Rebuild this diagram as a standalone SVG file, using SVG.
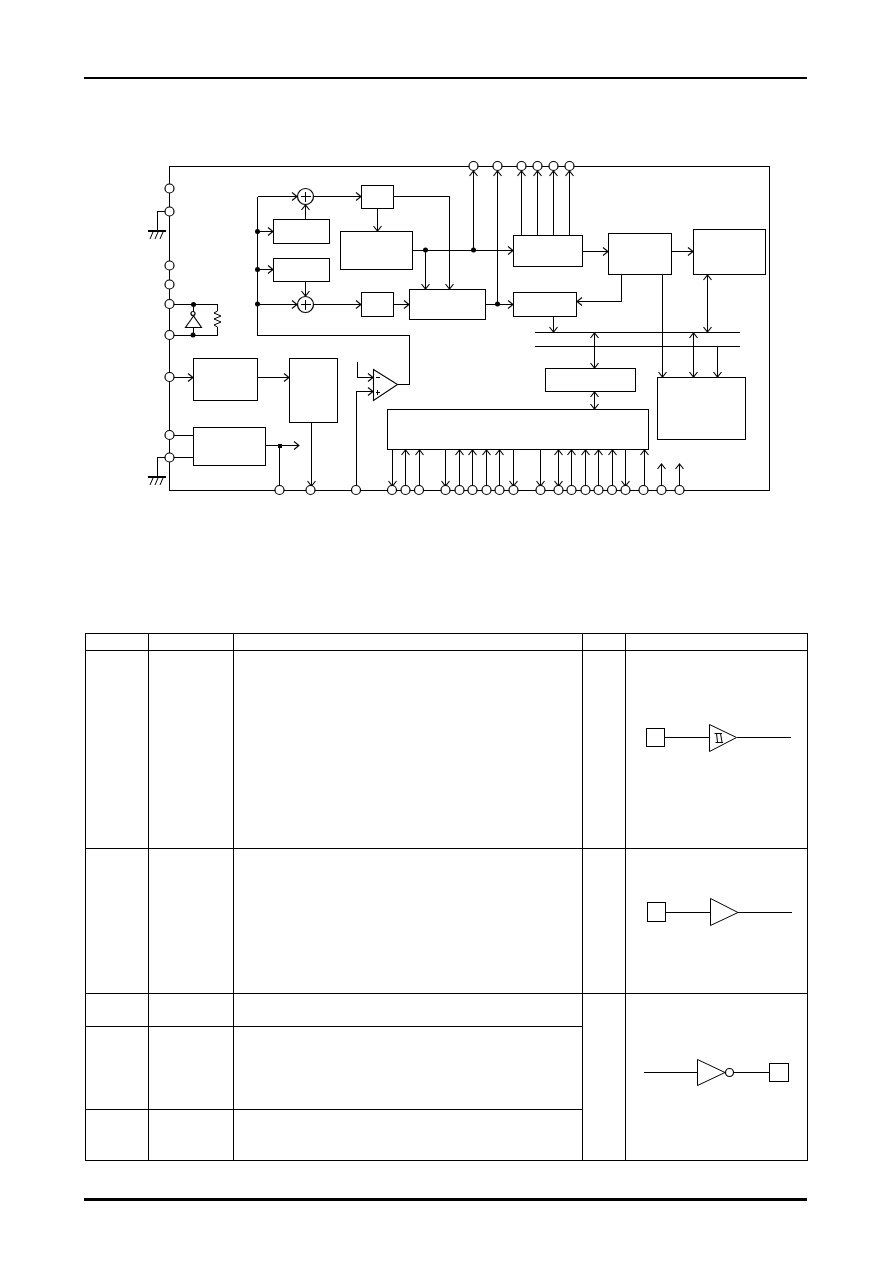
<svg xmlns="http://www.w3.org/2000/svg" width="892" height="1263" viewBox="0 0 892 1263">
<style>
.l{fill:none;stroke:#000;stroke-width:1;shape-rendering:crispEdges}
.d{fill:none;stroke:#000;stroke-width:1}
.b{fill:#fff;stroke:#000;stroke-width:1;shape-rendering:crispEdges}
.t{fill:#fff;stroke:#000;stroke-width:1.1}
.c{fill:#fff;stroke:#000;stroke-width:1.2}
.n{fill:#000;stroke:none}
.a{marker-end:url(#ar)}
.x{marker-start:url(#ar);marker-end:url(#ar)}
</style>
<defs>
<marker id="ar" markerUnits="userSpaceOnUse" markerWidth="12" markerHeight="12" refX="6" refY="6" orient="auto-start-reverse"><path d="M1 2L6 6L1 10" fill="none" stroke="#000" stroke-width="1.1"/></marker>
</defs>
<rect width="892" height="1263" fill="#fff"/>
<g id="page-rules">
<rect x="84" y="77" width="723" height="2" fill="#000"/>
<rect x="84" y="1198" width="723" height="3" fill="#000"/>
</g>
<g id="connectors">
<path class="l" d="M169.5 166.5H769.5V490.5H169.5Z"/>
<path class="l" d="M169.5 211.5H157.5V231M169.5 457.5H157.5V477"/>
<path class="l a" d="M257.5 196.5V335.5H409.5V384.5H397.5M257.5 196.5H297"/>
<path class="l a" d="M257.5 231.5H273"/>
<path class="l a" d="M257.5 269.5H273"/>
<path class="l a" d="M257.5 304.5H297"/>
<path class="l a" d="M305.5 219V205"/>
<path class="l a" d="M305.5 281V296"/>
<path class="l a" d="M314 196.5H361"/>
<path class="l a" d="M314 304.5H361"/>
<path class="l a" d="M377.5 208V231"/>
<path class="l a" d="M393.5 304.5H409"/>
<path class="l a" d="M393.5 196.5H449.5V289"/>
<path class="l a" d="M412.5 250.5H513"/>
<path class="l a" d="M425.5 250.5V289"/>
<path class="l a" d="M473.5 250.5V171"/>
<path class="l a" d="M497.5 304.5V171"/>
<path class="l a" d="M485.5 304.5H513"/>
<path class="l a" d="M521.5 235V171"/>
<path class="l a" d="M537.5 235V171"/>
<path class="l a" d="M553.5 235V171"/>
<path class="l a" d="M569.5 235V171"/>
<path class="l a" d="M582.5 251.5H608"/>
<path class="l a" d="M671.5 251.5H693"/>
<path class="l a" d="M621.5 274.5V301.5H577"/>
<path class="l a" d="M553.5 316.5V332"/>
<path class="l" d="M535 332.5H740M535 346.5H740"/>
<path class="l x" d="M594.5 333V368"/>
<path class="l x" d="M707.5 275V332"/>
<path class="l a" d="M662.5 274.5V377"/>
<path class="l x" d="M693.5 333V377"/>
<path class="l a" d="M717.5 346.5V377"/>
<path class="l x" d="M594.5 392V409"/>
<path class="l a" d="M174 377.5H193"/>
<path class="l a" d="M257.5 377.5H289"/>
<path class="l a" d="M311.5 422.5V486"/>
<path class="l" d="M174 435.5H193M174 457.5H193"/>
<path class="l a" d="M265.5 445.5H299"/>
<path class="l" d="M279.5 445.5V486"/>
<path class="l a" d="M357.5 362V377.5H373"/>
<path class="l a" d="M356.5 486V391.5H373"/>
<path class="l a" d="M392.5 449.5V486"/>
<path class="l a" d="M405.5 486V450"/>
<path class="l a" d="M419.5 486V450"/>
<path class="l a" d="M445.5 449.5V486"/>
<path class="l a" d="M459.5 486V450"/>
<path class="l a" d="M472.5 486V450"/>
<path class="l a" d="M486.5 486V450"/>
<path class="l a" d="M499.5 486V450"/>
<path class="l a" d="M513.5 449.5V486"/>
<path class="l a" d="M540.5 449.5V486"/>
<path class="l x" d="M558.5 450V486"/>
<path class="l a" d="M571.5 486V450"/>
<path class="l a" d="M585.5 486V450"/>
<path class="l a" d="M598.5 486V450"/>
<path class="l a" d="M612.5 486V450"/>
<path class="l a" d="M625.5 449.5V486"/>
<path class="l a" d="M644.5 486V450"/>
<path class="l a" d="M661.5 486V464"/>
<path class="l a" d="M679.5 486V464"/>
<path class="l" d="M169.5 304.5H217.5V311M217.5 327V335.5H169.5M193.5 304.5V312M193.5 327V335.5"/>
<path class="d" d="M217.5 311L214 313L221 316L214 319L221 322L214 325L217.5 327"/>
<circle class="n" cx="257.5" cy="231.5" r="2.5"/>
<circle class="n" cx="257.5" cy="269.5" r="2.5"/>
<circle class="n" cx="257.5" cy="304" r="2.5"/>
<circle class="n" cx="425.5" cy="250" r="2.5"/>
<circle class="n" cx="473.5" cy="250" r="2.5"/>
<circle class="n" cx="497.5" cy="304" r="2.5"/>
<circle class="n" cx="193.5" cy="304.5" r="2.5"/>
<circle class="n" cx="193" cy="335" r="2.5"/>
<rect class="n" x="278" y="444" width="4" height="4"/>
</g>
<g id="ground-1"><rect x="148" y="230" width="18" height="2" fill="#000"/><path class="d" d="M153 232L150 239M158 232L155 239M163 232L160 239"/></g>
<g id="ground-2"><rect x="148" y="476" width="18" height="2" fill="#000"/><path class="d" d="M153 478L150 485M158 478L155 485M163 478L160 485"/></g>
<g id="inverter"><path class="t" d="M193.5 316L185.5 327.5H201.5Z"/><circle class="c" cx="193" cy="313.5" r="2"/></g>
<g id="sum-1"><circle class="c" cx="305.5" cy="196.5" r="8"/><path class="l" d="M300.5 196.5H310.5M305.5 191.5V201.5"/></g>
<g id="sum-2"><circle class="c" cx="305.5" cy="304.5" r="8"/><path class="l" d="M300.5 304.5H310.5M305.5 299.5V309.5"/></g>
<g id="box-a"><rect class="b" x="273.5" y="219.5" width="56" height="24"/></g>
<g id="box-b"><rect class="b" x="273.5" y="258.5" width="56" height="23"/></g>
<g id="box-c"><rect class="b" x="361.5" y="185.5" width="32" height="23"/></g>
<g id="box-d"><rect class="b" x="340.5" y="231.5" width="72" height="38"/></g>
<g id="box-e"><rect class="b" x="361.5" y="292.5" width="32" height="24"/></g>
<g id="box-f"><rect class="b" x="409.5" y="289.5" width="76" height="30"/></g>
<g id="box-g"><rect class="b" x="513.5" y="235.5" width="69" height="31"/></g>
<g id="box-h"><rect class="b" x="513.5" y="292.5" width="63" height="24"/></g>
<g id="box-i"><rect class="b" x="608.5" y="233.5" width="63" height="41"/></g>
<g id="box-j"><rect class="b" x="693.5" y="229.5" width="72" height="45"/></g>
<g id="box-k"><rect class="b" x="545.5" y="368.5" width="90" height="23"/></g>
<g id="box-l"><rect class="b" x="657.5" y="377.5" width="88" height="62"/></g>
<g id="box-m"><rect class="b" x="387.5" y="409.5" width="261" height="40"/></g>
<g id="box-n"><rect class="b" x="193.5" y="358.5" width="64" height="42"/></g>
<g id="box-o"><rect class="b" x="289.5" y="358.5" width="48" height="64"/></g>
<g id="box-p"><rect class="b" x="193.5" y="427.5" width="72" height="38"/></g>
<g id="opamp"><path class="t" d="M373.5 369.5V400.5L397.5 384.5Z"/><path class="l" d="M375.5 377.5H380M375.5 392.5H380M377.5 390V395"/></g>
<g id="pins" class="c">
<circle cx="169.5" cy="188.5" r="4.5"/><circle cx="169.5" cy="211.5" r="4.5"/><circle cx="169.5" cy="265.5" r="4.5"/><circle cx="169.5" cy="284.5" r="4.5"/><circle cx="169.5" cy="304" r="4.5"/><circle cx="169.5" cy="335" r="4.5"/><circle cx="169.5" cy="377" r="4.5"/><circle cx="169.5" cy="435" r="4.5"/><circle cx="169.5" cy="457.5" r="4.5"/>
<circle cx="473.5" cy="166" r="4.5"/><circle cx="497.5" cy="166" r="4.5"/><circle cx="521.5" cy="166" r="4.5"/><circle cx="537.5" cy="166" r="4.5"/><circle cx="553.5" cy="166" r="4.5"/><circle cx="569.5" cy="166" r="4.5"/>
<circle cx="279.5" cy="490" r="4.5"/><circle cx="310.5" cy="490" r="4.5"/><circle cx="356" cy="490" r="4.5"/><circle cx="392" cy="490" r="4.5"/><circle cx="405.5" cy="490" r="4.5"/><circle cx="419" cy="490" r="4.5"/><circle cx="445.5" cy="490" r="4.5"/><circle cx="459.5" cy="490" r="4.5"/><circle cx="472.5" cy="490" r="4.5"/><circle cx="486.5" cy="490" r="4.5"/><circle cx="499.5" cy="490" r="4.5"/><circle cx="513.5" cy="490" r="4.5"/><circle cx="540.5" cy="490" r="4.5"/><circle cx="558.5" cy="490" r="4.5"/><circle cx="571.5" cy="490" r="4.5"/><circle cx="585.5" cy="490" r="4.5"/><circle cx="598.5" cy="490" r="4.5"/><circle cx="612" cy="490" r="4.5"/><circle cx="625.5" cy="490" r="4.5"/><circle cx="643.5" cy="490" r="4.5"/><circle cx="661.5" cy="490" r="4.5"/><circle cx="679.5" cy="490" r="4.5"/>
</g>
<g id="table">
<path class="l" d="M85.5 633.5H807.5V1160.5H85.5ZM85.5 650.5H807.5M85.5 848.5H807.5M85.5 993.5H807.5M85.5 1026.5H582.5M85.5 1109.5H582.5M148.5 633.5V1160.5M233.5 633.5V1160.5M582.5 633.5V1160.5M625.5 633.5V1160.5"/>
</g>
<g id="circuit-1">
<rect class="b" x="646.5" y="728.5" width="18" height="18"/>
<path class="l" d="M664.5 737.5H709.5M736.5 737.5H790.5"/>
<path class="d" d="M709.5 724.5V751.5L736.5 737.5Z"/>
<path class="d" d="M714.5 733.5H722M716.5 733.5L717.5 742M720.5 733.5L722 742M715.5 742.5H723"/>
</g>
<g id="circuit-2">
<rect class="b" x="647.5" y="902.5" width="18" height="19"/>
<path class="l" d="M665.5 912.5H710.5M738 912.5H791.5"/>
<path class="d" d="M710.5 898.5V925.5L738 912.5Z"/>
</g>
<g id="circuit-3">
<path class="l" d="M644 1072.5H697.5M733.5 1072.5H769.5"/>
<path class="d" d="M697.5 1059.5V1085.5L725 1072.5Z"/>
<circle class="c" cx="729.5" cy="1072.5" r="4"/>
<rect class="b" x="769.5" y="1063.5" width="19" height="18"/>
</g>
</svg>
